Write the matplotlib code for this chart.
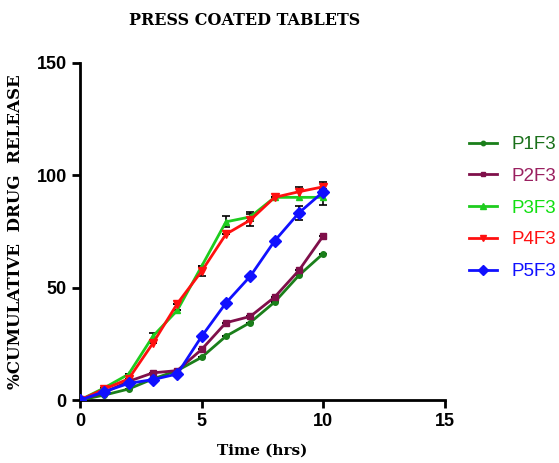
import matplotlib
matplotlib.use("Agg")
import matplotlib.pyplot as plt
import numpy as np

# Time points (hrs)
time = [0, 1, 2, 3, 4, 5, 6, 7, 8, 9, 10]

# % cumulative drug release per formulation
p1f3 = [0, 2.2, 4.9, 9.4, 13.1, 19.0, 28.4, 34.5, 43.6, 55.5, 65.2]
p2f3 = [0, 3.4, 8.3, 12.1, 13.1, 22.5, 34.4, 37.2, 45.8, 57.7, 73.1]
p3f3 = [0, 5.4, 11.5, 28.4, 39.9, 59.5, 79.3, 81.5, 90.2, 90.2, 90.2]
p4f3 = [0, 4.9, 9.4, 25.3, 42.9, 57.3, 73.8, 80.1, 90.2, 92.7, 94.9]
p5f3 = [0, 3.7, 7.4, 9.1, 11.6, 28.3, 43.2, 55.1, 70.8, 83.3, 92.7]

# standard deviations (only a few visible)
err1 = [0, 0, 0, 0, 0, 0, 0, 0, 0, 0, 0]
err2 = [0, 0, 0, 0, 0, 0, 0, 0, 0, 0, 0]
err3 = [0, 0, 0, 1.5, 0, 0, 2.5, 2.0, 0, 0, 3.5]
err4 = [0, 0, 0, 0, 0, 2.0, 0, 2.8, 0, 2.2, 2.0]
err5 = [0, 0, 0, 0, 0, 0, 0, 0, 0, 3.0, 0]

labels = ["P1F3", "P2F3", "P3F3", "P4F3", "P5F3"]
series = [p1f3, p2f3, p3f3, p4f3, p5f3]
errors = [err1, err2, err3, err4, err5]
colors = ["#1a7f1a", "#7f0f4a", "#1ecc1e", "#ff1010", "#1010ff"]
text_colors = ["#1a701a", "#9a2060", "#10e010", "#ff1010", "#1010ff"]
markers = ["o", "s", "^", "v", "D"]
msizes = [4, 4, 5, 6, 6]

fig = plt.figure(figsize=(5.59, 4.63), dpi=100)
ax = fig.add_axes([0.143, 0.136, 0.653, 0.728])

handles = []
for y, e, lab, c, m, ms in zip(series, errors, labels, colors, markers, msizes):
    ax.errorbar(time, y, yerr=e, fmt="none", ecolor="black", elinewidth=1.2,
                capsize=3, capthick=1.2, zorder=2)
    h, = ax.plot(time, y, color=c, marker=m, markersize=ms, linewidth=2,
                 label=lab, zorder=3)
    handles.append(h)

ax.set_xlim(0, 15)
ax.set_ylim(0, 150)
ax.set_xticks([0, 5, 10, 15])
ax.set_yticks([0, 50, 100, 150])
ax.spines["top"].set_visible(False)
ax.spines["right"].set_visible(False)
ax.spines["left"].set_linewidth(2)
ax.spines["bottom"].set_linewidth(2)
ax.tick_params(width=2, length=6, direction="out")
for t in ax.get_xticklabels() + ax.get_yticklabels():
    t.set_fontfamily("Liberation Sans")
    t.set_fontweight("bold")
    t.set_fontsize(13)

ax.set_title("PRESS COATED TABLETS", fontfamily="DejaVu Serif",
             fontweight="bold", fontsize=11.5, pad=27, x=0.452)
ax.set_xlabel("Time (hrs)", fontfamily="DejaVu Serif", fontweight="bold",
              fontsize=11, labelpad=10)
ax.set_ylabel("%CUMULATIVE  DRUG  RELEASE", fontfamily="DejaVu Serif",
              fontweight="bold", fontsize=12, labelpad=9)

leg = fig.legend(handles=handles, loc="upper left", bbox_to_anchor=(0.839, 0.706),
                 frameon=False, handlelength=1.5, handletextpad=0.75,
                 labelspacing=0.78, borderpad=0, borderaxespad=0,
                 prop={"family": "Liberation Sans", "size": 13.5}, markerscale=0.8)
for txt, c in zip(leg.get_texts(), text_colors):
    txt.set_color(c)

fig.savefig("out.png", dpi=100)
